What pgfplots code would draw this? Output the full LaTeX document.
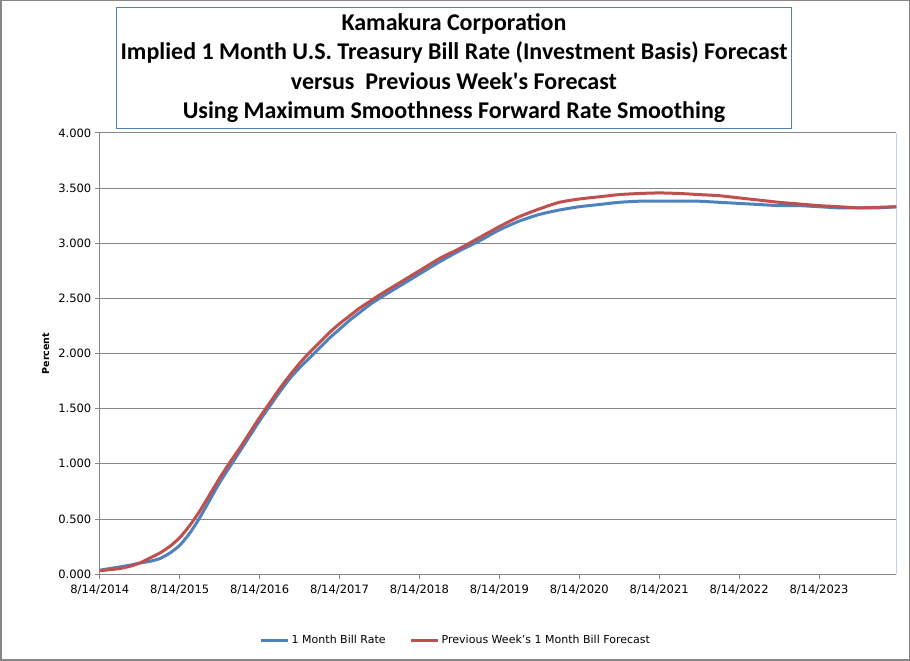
\documentclass[border=0pt]{standalone}
\usepackage{fontspec}
\setmainfont{DejaVu Sans}
\newfontfamily\titlefont{Carlito}
\usepackage{pgfplots}
\pgfplotsset{compat=1.18}
\definecolor{blueS}{HTML}{4F81BD}
\definecolor{redS}{HTML}{C0504D}
\definecolor{gridc}{HTML}{868686}
\definecolor{boxc}{HTML}{4F81BD}
\begin{document}
\begin{tikzpicture}[x=1pt,y=1pt]
\draw[gridc, line width=1.5pt] (1,1) rectangle (909,660);
\draw[boxc, line width=0.8pt] (117,532) rectangle (791,653);
\node[align=center, font=\titlefont\bfseries\fontsize{24}{29.5}\selectfont] at (454,592.5)
{Kamakura Corporation\\Implied 1 Month U.S. Treasury Bill Rate (Investment Basis) Forecast\\versus\ \ Previous Week's Forecast\\Using Maximum Smoothness Forward Rate Smoothing};
\begin{axis}[
  at={(100pt,87pt)}, anchor=south west, scale only axis,
  width=796pt, height=441pt,
  xmin=0, xmax=119.6, ymin=0, ymax=4,
  axis x line*=bottom, axis y line*=left,
  axis line style={gridc, line width=0.8pt},
  ymajorgrids, grid style={gridc, line width=0.8pt},
  tick style={gridc, line width=0.8pt}, major tick length=5pt, tick align=outside,
  xtick={0,12,...,108},
  xticklabels={8/14/2014,8/14/2015,8/14/2016,8/14/2017,8/14/2018,8/14/2019,8/14/2020,8/14/2021,8/14/2022,8/14/2023},
  xticklabel style={yshift=-2pt},
  ytick={0,0.5,...,4},
  yticklabel style={/pgf/number format/.cd, fixed, fixed zerofill, precision=3, assume math mode=true},
  ticklabel style={font=\fontsize{11.5}{13}\selectfont},
  ylabel={Percent},
  ylabel style={at={(axis description cs:-0.068,0.5)}, anchor=center, font=\bfseries\fontsize{9.5}{11}\selectfont},
  legend columns=2,
  legend style={at={(axis description cs:0.447,-0.15)}, anchor=center, draw=none, font=\fontsize{11}{13}\selectfont,
    /tikz/every even column/.append style={column sep=22pt}},
  legend image code/.code={\draw[#1] (0pt,0pt) -- (27pt,0pt);},
]
\draw[boxc, line width=0.8pt] (rel axis cs:1,0) -- (rel axis cs:1,1);
\addplot[blueS, line width=3pt, smooth, tension=0.4] coordinates {
(0,0.035) (1.5,0.05) (3,0.065) (4.5,0.08) (6,0.10) (7.5,0.115) (9,0.14) (10.5,0.19) (12,0.26) (13.5,0.37)
(15,0.51) (16.5,0.67) (18,0.83) (19.5,0.97) (21,1.11) (22.5,1.25) (24,1.39) (25.5,1.52) (27,1.65) (28.5,1.77)
(30,1.87) (31.5,1.96) (33,2.05) (34.5,2.14) (36,2.22) (37.5,2.30) (39,2.37) (40.5,2.44) (42,2.50)
(45,2.61) (48,2.72) (51,2.83) (54,2.93) (57,3.02) (60,3.12) (63,3.20) (66,3.26) (69,3.30) (72,3.33)
(75,3.35) (78,3.37) (81,3.38) (84,3.38) (87,3.38) (90,3.38) (93,3.37) (96,3.36) (99,3.35) (102,3.34)
(105,3.34) (108,3.33) (111,3.32) (114,3.32) (117,3.32) (119.6,3.33)
};
\addlegendentry{1 Month Bill Rate}
\addplot[redS, line width=3pt, smooth, tension=0.4] coordinates {
(0,0.03) (1.5,0.04) (3,0.05) (4.5,0.07) (6,0.10) (7.5,0.145) (9,0.19) (10.5,0.25) (12,0.33) (13.5,0.44)
(15,0.57) (16.5,0.72) (18,0.87) (19.5,1.01) (21,1.14) (22.5,1.28) (24,1.42) (25.5,1.55) (27,1.68) (28.5,1.80)
(30,1.91) (31.5,2.01) (33,2.10) (34.5,2.19) (36,2.27) (37.5,2.34) (39,2.41) (40.5,2.47) (42,2.53)
(45,2.64) (48,2.75) (51,2.86) (54,2.95) (57,3.05) (60,3.15) (63,3.24) (66,3.31) (69,3.37) (72,3.40)
(75,3.42) (78,3.44) (81,3.45) (84,3.455) (87,3.45) (90,3.44) (93,3.43) (96,3.41) (99,3.39) (102,3.37)
(105,3.355) (108,3.34) (111,3.33) (114,3.32) (117,3.325) (119.6,3.33)
};
\addlegendentry{Previous Week's 1 Month Bill Forecast}
\end{axis}
\end{tikzpicture}
\end{document}
